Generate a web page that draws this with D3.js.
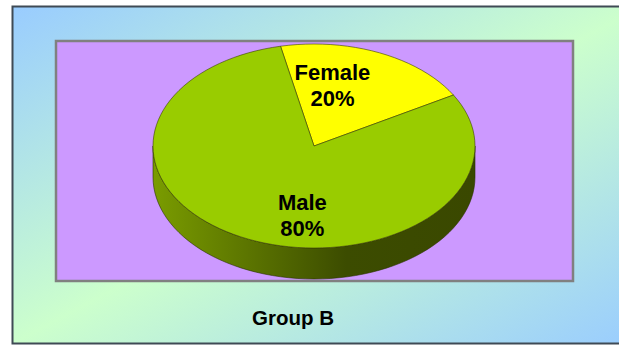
<!DOCTYPE html>
<html>
<head>
<meta charset="utf-8">
<script src="https://cdn.jsdelivr.net/npm/d3@7"></script>
<style>
  html, body { margin: 0; padding: 0; background: #ffffff; }
  svg { display: block; }
  text { font-family: "Liberation Sans", Arial, sans-serif; font-weight: bold; fill: #000; }
</style>
</head>
<body>
<svg id="chart" width="619" height="347"></svg>
<script>
// Gender split for Group B
const categories = ["Female", "Male"];
const values = [20, 80];
const chartTitle = "Group B";

const sliceColors = { Female: "#FFFF00", Male: "#99CC00" };

const W = 619, H = 347;
const svg = d3.select("#chart");
const defs = svg.append("defs");

// Outer chart background: blue corners fading to pale green across the diagonal
const bg = defs.append("linearGradient").attr("id", "bgGrad")
  .attr("x1", 0).attr("y1", 0).attr("x2", 1).attr("y2", 1);
bg.append("stop").attr("offset", "0%").attr("stop-color", "#99CCFF");
bg.append("stop").attr("offset", "50%").attr("stop-color", "#CCFFCC");
bg.append("stop").attr("offset", "100%").attr("stop-color", "#99CCFF");

// Side wall shading of the 3D pie
const side = defs.append("linearGradient").attr("id", "sideGrad")
  .attr("x1", 0).attr("y1", 0).attr("x2", 1).attr("y2", 0);
side.append("stop").attr("offset", "0%").attr("stop-color", "#7A9C00");
side.append("stop").attr("offset", "60%").attr("stop-color", "#3C4C00");
side.append("stop").attr("offset", "100%").attr("stop-color", "#3A4800");

// Chart area
svg.append("rect")
  .attr("x", 12.5).attr("y", 6.5).attr("width", W + 10).attr("height", 337)
  .attr("fill", "url(#bgGrad)").attr("stroke", "#3F4A55").attr("stroke-width", 2);

// Plot area
svg.append("rect")
  .attr("x", 56).attr("y", 41).attr("width", 517).attr("height", 240)
  .attr("fill", "#CC99FF").attr("stroke", "#808080").attr("stroke-width", 2.5);

// 3D pie geometry
const cx = 314, cy = 146, rx = 161, ry = 102, depth = 31;
const startA = -12 * Math.PI / 180;
const pt = (a, dz = 0, f = 1) => [cx + f * rx * Math.sin(a), cy - f * ry * Math.cos(a) + dz];

const pie = d3.pie().sort(null).startAngle(startA).endAngle(startA + 2 * Math.PI);
const arcs = pie(values).map((d, i) => ({ ...d, name: categories[i] }));

const line = d3.line();
const STEPS = 120;
function arcPts(a0, a1, dz) {
  const pts = [];
  const n = Math.max(2, Math.ceil(STEPS * (a1 - a0) / (2 * Math.PI)));
  for (let k = 0; k <= n; k++) pts.push(pt(a0 + (a1 - a0) * k / n, dz));
  return pts;
}

const g = svg.append("g");

// Front-facing side walls (parametric angles between 90deg and 270deg)
const frontLo = Math.PI / 2, frontHi = 3 * Math.PI / 2;
arcs.forEach(d => {
  for (const shift of [0, 2 * Math.PI, -2 * Math.PI]) {
    const a0 = Math.max(d.startAngle + shift, frontLo);
    const a1 = Math.min(d.endAngle + shift, frontHi);
    if (a1 > a0) {
      const top = arcPts(a0, a1, 0);
      const bot = arcPts(a0, a1, depth).reverse();
      g.append("path")
        .attr("d", line(top.concat(bot)) + "Z")
        .attr("fill", "url(#sideGrad)")
        .attr("stroke", "#2A3300").attr("stroke-width", 0.6);
    }
  }
});

// Top faces of the slices
arcs.forEach(d => {
  const pts = [[cx, cy]].concat(arcPts(d.startAngle, d.endAngle, 0));
  g.append("path")
    .attr("d", line(pts) + "Z")
    .attr("fill", sliceColors[d.name])
    .attr("stroke", "#3A4200").attr("stroke-width", 0.6)
    .attr("stroke-linejoin", "round");
});

// Data labels: name and share, placed inside each slice
const labelLayout = { Female: { shift: -13, f: 0.6 }, Male: { shift: -18, f: 0.69 } };
const total = d3.sum(values);
arcs.forEach(d => {
  const L = labelLayout[d.name];
  const mid = (d.startAngle + d.endAngle) / 2 + L.shift * Math.PI / 180;
  const [lx, ly] = pt(mid, 0, L.f);
  const t = g.append("text")
    .attr("x", lx).attr("y", ly)
    .attr("text-anchor", "middle")
    .style("font-size", "22px");
  t.append("tspan").attr("x", lx).attr("dy", "-0.27em").text(d.name);
  t.append("tspan").attr("x", lx).attr("dy", "1.18em")
    .text(Math.round(d.value / total * 100) + "%");
});

// Chart caption
svg.append("text")
  .attr("x", 293).attr("y", 325)
  .attr("text-anchor", "middle")
  .style("font-size", "20.5px")
  .text(chartTitle);
</script>
</body>
</html>
